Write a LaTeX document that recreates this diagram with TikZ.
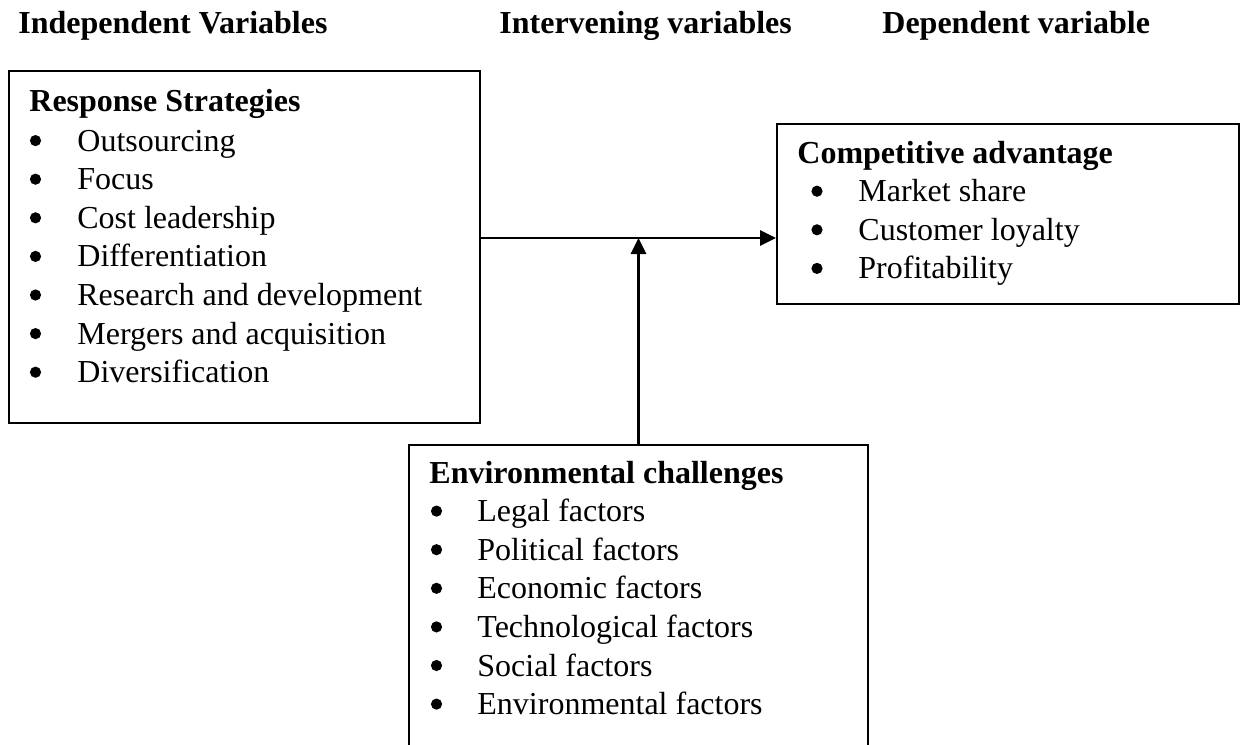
\documentclass[tikz,border=0pt]{standalone}
\usepackage{fontspec}
\setmainfont{Liberation Serif}
\usetikzlibrary{arrows.meta}

\tikzset{
  box/.style={draw, line width=1pt, inner sep=0pt, anchor=north west},
  heading/.style={font=\fontsize{16}{19}\selectfont\bfseries, anchor=base west, inner sep=0pt},
  entry/.style={font=\fontsize{16}{19}\selectfont, anchor=base west, inner sep=0pt},
  dot/.style={circle, fill, inner sep=0pt, minimum size=5.6pt},
  link/.style={line width=1.4pt, -{Triangle[length=8pt,width=7.5pt]}}
}

\begin{document}
\begin{tikzpicture}[x=0.5pt, y=-0.5pt]
    % page
    \clip (0, 0) rectangle (1245, 744);
    % column titles
    \node [heading] (indep) at (18, 33) {Independent Variables};
    \node [heading] (interv) at (499, 33) {Intervening variables};
    \node [heading] (dep) at (882, 33) {Dependent variable};
    % response strategies
    \node [box, minimum width=235.5pt, minimum height=176.25pt] (resp) at (8, 69.5) {};
    \node [heading] (resphead) at (29, 111) {Response Strategies};
    \foreach \txt [count=\i] in {Outsourcing, Focus, Cost leadership, Differentiation,
        Research and development, Mergers and acquisition, Diversification} {
      \node [dot] (respdot\i) at (35.5, 102 + 38.6*\i) {};
      \node [entry] (resp\i) at (77, 112.5 + 38.6*\i) {\txt};
    }
    % competitive advantage
    \node [box, minimum width=231pt, minimum height=90pt] (adv) at (776, 123) {};
    \node [heading] (advhead) at (797, 163) {Competitive advantage};
    \foreach \txt [count=\i] in {Market share, Customer loyalty, Profitability} {
      \node [dot] (advdot\i) at (817, 152.6 + 38.6*\i) {};
      \node [entry] (adv\i) at (858, 163.1 + 38.6*\i) {\txt};
    }
    % environmental challenges
    \node [box, minimum width=229.5pt, minimum height=168.25pt] (env) at (408, 443.5) {};
    \node [heading] (envhead) at (429, 483) {Environmental challenges};
    \foreach \txt [count=\i] in {Legal factors, Political factors, Economic factors,
        Technological factors, Social factors, Environmental factors} {
      \node [dot] (envdot\i) at (436.5, 472.5 + 38.6*\i) {};
      \node [entry] (env\i) at (477, 483 + 38.6*\i) {\txt};
    }
    % arrows
    \coordinate (meet) at (637.5, 238);
    \draw [link] (resp.east |- meet) -- (adv.west |- meet);
    \draw [link] (env.north) -- (env.north |- meet);
\end{tikzpicture}
\end{document}
